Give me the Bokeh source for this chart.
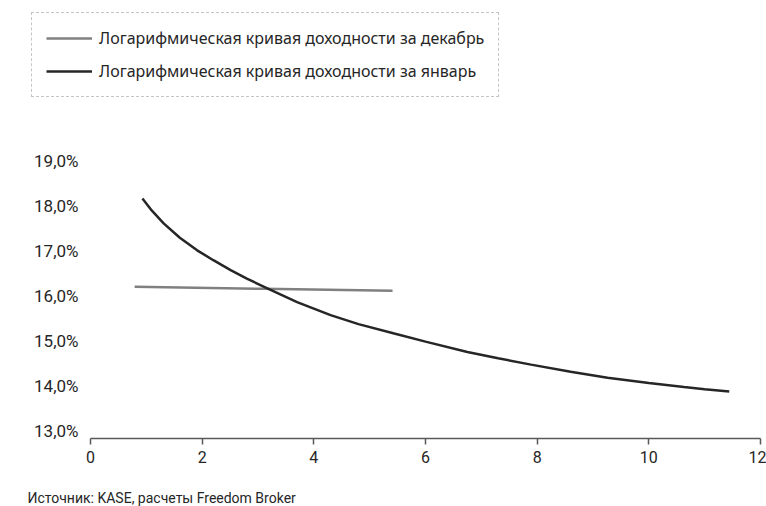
from bokeh.plotting import figure
from bokeh.layouts import column, row
from bokeh.models import (Range1d, FixedTicker, Legend, LegendItem, Label, ColumnDataSource)
from bokeh.embed import file_html
from bokeh.resources import INLINE

# ---- data ----
dec_x = [0.79, 3.10, 5.41]
dec_y = [16.21, 16.165, 16.12]

jan_x = [0.93, 1.10, 1.31, 1.60, 1.91, 2.20, 2.51, 2.80, 3.11, 3.40, 3.70, 4.30,
         4.80, 5.44, 6.00, 6.75, 7.30, 7.89, 8.60, 9.26, 10.00, 10.63, 11.00, 11.44]
jan_y = [18.17, 17.90, 17.62, 17.30, 17.02, 16.80, 16.58, 16.39, 16.21, 16.04, 15.87, 15.58,
         15.38, 15.17, 14.99, 14.76, 14.62, 14.48, 14.32, 14.19, 14.07, 13.98, 13.93, 13.88]

series_names = ["Логарифмическая кривая доходности за декабрь",
                "Логарифмическая кривая доходности за январь"]
series_colors = ["#808080", "#262626"]

x_ticks = [0, 2, 4, 6, 8, 10, 12]
y_ticks = [13, 14, 15, 16, 17, 18, 19]
y_tick_labels = ["13,0%", "14,0%", "15,0%", "16,0%", "17,0%", "18,0%", "19,0%"]

source_note = "Источник: KASE, расчеты Freedom Broker"

W = 766

dec_src = ColumnDataSource(dict(x=dec_x, y=dec_y))
jan_src = ColumnDataSource(dict(x=jan_x, y=jan_y))

# ---- legend strip (top) ----
p_leg = figure(width=W, height=140, output_backend="svg", toolbar_location=None,
               x_range=Range1d(0, 1), y_range=Range1d(0, 1),
               min_border=0, min_border_left=0, min_border_right=0,
               min_border_top=0, min_border_bottom=0)
p_leg.axis.visible = False
p_leg.grid.visible = False
p_leg.outline_line_color = None
# same series, outside this strip's view: only their legend glyphs are shown
lr_dec = p_leg.line("x", "y", source=dec_src, line_color=series_colors[0], line_width=2.5)
lr_jan = p_leg.line("x", "y", source=jan_src, line_color=series_colors[1], line_width=2.5)
legend = Legend(items=[LegendItem(label=series_names[0], renderers=[lr_dec]),
                       LegendItem(label=series_names[1], renderers=[lr_jan])],
                location=(31, 43), orientation="vertical",
                border_line_color="#8c8c8c", border_line_dash="4 3", border_line_width=1,
                background_fill_color="white", background_fill_alpha=1,
                padding=14, spacing=11, margin=0,
                glyph_width=46, glyph_height=20, label_height=20, label_standoff=7,
                label_text_font="Noto Sans", label_text_font_size="16px",
                label_text_color="#262626")
p_leg.add_layout(legend, "center")

# ---- main chart ----
p = figure(width=W, height=340, output_backend="svg", toolbar_location=None,
           x_range=Range1d(0, 12), y_range=Range1d(12.838, 19.238),
           min_border_left=90, min_border_right=6, min_border_top=10,
           min_border_bottom=42)
p.outline_line_color = None
p.xgrid.visible = False
p.ygrid.visible = False

p.line("x", "y", source=dec_src, line_color=series_colors[0], line_width=2.5)
p.line("x", "y", source=jan_src, line_color=series_colors[1], line_width=2.5)

xa = p.xaxis[0]
xa.ticker = FixedTicker(ticks=x_ticks)
xa.minor_tick_line_color = None
xa.axis_line_color = "#595959"
xa.axis_line_width = 1.5
xa.major_tick_line_color = "#595959"
xa.major_tick_line_width = 1.5
xa.major_tick_in = 0
xa.major_tick_out = 6
xa.major_label_standoff = 6
xa.major_label_text_font = "Roboto"
xa.major_label_text_font_size = "16px"
xa.major_label_text_color = "#262626"

ya = p.yaxis[0]
ya.ticker = FixedTicker(ticks=y_ticks)
ya.major_label_overrides = {t: l for t, l in zip(y_ticks, y_tick_labels)}
ya.axis_line_color = None
ya.major_tick_line_color = None
ya.minor_tick_line_color = None
ya.major_tick_in = 0
ya.major_tick_out = 0
ya.major_label_standoff = 12
ya.major_label_text_font = "Roboto"
ya.major_label_text_font_size = "17px"
ya.major_label_text_color = "#262626"

# ---- source note strip (bottom) ----
p_note = figure(width=W, height=26, output_backend="svg", toolbar_location=None,
                x_range=Range1d(0, 1), y_range=Range1d(0, 1),
                min_border=0, min_border_left=0, min_border_right=0,
                min_border_top=0, min_border_bottom=0)
p_note.axis.visible = False
p_note.grid.visible = False
p_note.outline_line_color = None
note = Label(x=27, y=9, x_units="screen", y_units="screen", text=source_note,
             text_font="Roboto", text_font_size="14px",
             text_color="#262626", text_baseline="middle", text_align="left")
p_note.add_layout(note)

layout = column(row(p_leg), p, row(p_note), spacing=0)
open("out.html", "w").write(file_html(layout, INLINE))
